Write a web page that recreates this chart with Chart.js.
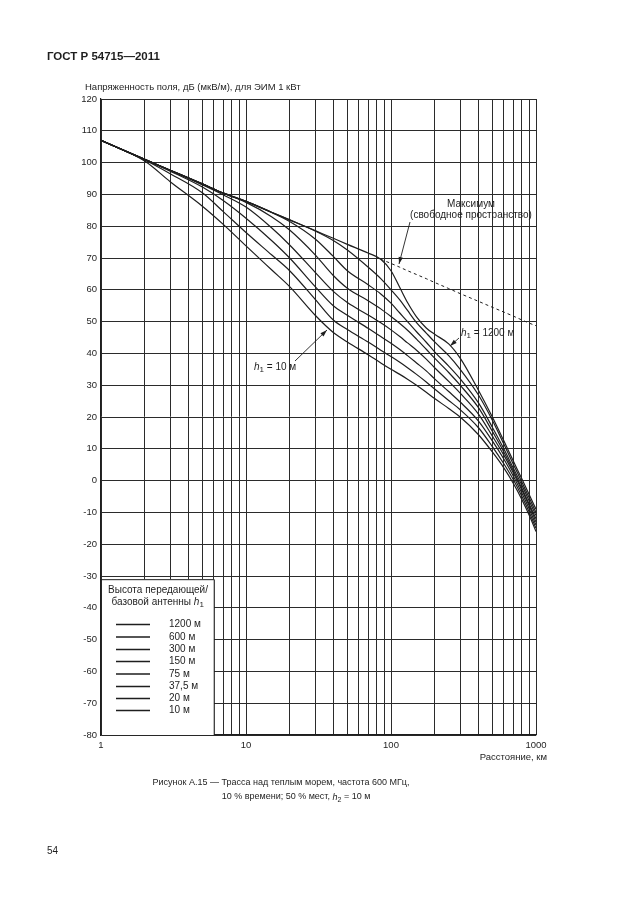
<!DOCTYPE html>
<html>
<head>
<meta charset="utf-8">
<script src="https://cdn.jsdelivr.net/npm/chart.js@4.4.1/dist/chart.umd.min.js"></script>
<style>
  html, body { margin: 0; padding: 0; background: #fff; }
  canvas { display: block; }
</style>
</head>
<body>
<canvas id="chart" width="630" height="913"></canvas>
<script>
// distances, km
const distances = [1, 2, 3, 5, 7, 10, 15, 20, 30, 40, 50, 70, 85, 100, 115, 130, 150, 175, 200, 250, 300, 400, 500, 600, 700, 800, 900, 1000];

// field strength, dB(uV/m), per transmitting antenna height h1
const h1200 = [107, 101, 97.6, 93.3, 90.4, 87.8, 84.4, 82, 78.6, 76.2, 74.3, 71.5, 69.6, 66, 60.7, 56, 51.5, 48, 46, 43, 38.5, 28.5, 20, 12.5, 6, 0.5, -4.5, -9];
const h600 = [107, 101, 97.6, 93.3, 90.4, 87.8, 84.4, 82, 78.5, 75.5, 72.5, 67, 63.5, 60, 56.8, 53.5, 49.7, 46.4, 43.6, 39.3, 35, 27, 19, 11.5, 5, -0.5, -5.5, -10];
const h300 = [107, 101, 97.6, 93.3, 90.4, 87.8, 84.3, 81.5, 76, 70.5, 66, 61.5, 58.7, 55.8, 52.7, 50, 46.8, 43.5, 40.5, 36, 32, 24.5, 16.8, 10, 3.8, -1.5, -6.5, -11];
const h150 = [107, 101, 97.6, 93.3, 90.3, 87.5, 83, 78.8, 71, 64.5, 60.5, 56.5, 54, 51.6, 49.4, 47.3, 44.5, 41.3, 38.5, 34, 30, 23, 15.5, 9, 3, -2.5, -7.5, -12];
const h75 = [107, 101, 97.6, 93, 89.8, 86, 79.5, 74.1, 65.5, 59.5, 56, 52, 49.6, 47.4, 45.3, 43.3, 41, 38.2, 35.5, 31.2, 27.5, 21, 14, 8, 2.3, -3, -8, -13];
const h37_5 = [107, 101, 97.3, 92.3, 88, 82.5, 75.5, 70, 61, 55, 52, 47.8, 45.3, 43.2, 41.2, 39.3, 37, 34.5, 32, 28, 24.7, 18.8, 12.5, 6.8, 1.3, -4, -9, -14];
const h20 = [107, 100.8, 96.5, 90.5, 84.5, 78, 71, 66, 57, 50.5, 47.5, 43.5, 41, 39, 37.2, 35.5, 33.4, 31, 28.8, 25.2, 22.3, 16.7, 10.7, 5.3, 0.2, -5, -10, -15];
const h10 = [107, 100.5, 94, 86.3, 80.5, 73.8, 66.3, 61, 52, 46.6, 43.6, 39.5, 37, 35, 33.4, 31.9, 30, 27.8, 25.8, 22.7, 20, 14.5, 9, 4, -1, -6, -11, -16];

// maximum (free space), dashed part only
const freeSpace = [null, null, null, null, null, null, null, null, null, null, null, null, 69.6, 68.3, 67.1, 66, 64.8, 63.5, 62.3, 60.4, 58.8, 56.4, 54.5, 53, 51.7, 50.5, 49.5, 48.7];

const legendLabels = ['1200 м', '600 м', '300 м', '150 м', '75 м', '37,5 м', '20 м', '10 м'];
const seriesList = [h1200, h600, h300, h150, h75, h37_5, h20, h10];

const xTickValues = [];
[1, 10, 100].forEach(dec => { for (let i = 1; i < 10; i++) xTickValues.push(i * dec); });
xTickValues.push(1000);
const xLabelValues = [1, 10, 100, 1000];

const FONT = '"Liberation Sans", Arial, sans-serif';
const INK = '#1e1e1e';

function toPoints(arr) {
  return distances.map((d, i) => ({ x: d, y: arr[i] }));
}

const datasets = seriesList.map((arr, i) => ({
  label: legendLabels[i],
  data: toPoints(arr),
  borderColor: INK,
  borderWidth: 1.2,
  pointRadius: 0,
  fill: false,
  cubicInterpolationMode: 'monotone'
}));
datasets.push({
  label: 'Максимум',
  data: toPoints(freeSpace),
  borderColor: INK,
  borderWidth: 1,
  borderDash: [3, 3],
  pointRadius: 0,
  fill: false,
  spanGaps: false
});

function arrow(ctx, x1, y1, x2, y2) {
  ctx.beginPath();
  ctx.moveTo(x1, y1);
  ctx.lineTo(x2, y2);
  ctx.stroke();
  const a = Math.atan2(y2 - y1, x2 - x1);
  const len = 7, w = 2.2;
  ctx.beginPath();
  ctx.moveTo(x2, y2);
  ctx.lineTo(x2 - len * Math.cos(a) + w * Math.sin(a), y2 - len * Math.sin(a) - w * Math.cos(a));
  ctx.lineTo(x2 - len * Math.cos(a) - w * Math.sin(a), y2 - len * Math.sin(a) + w * Math.cos(a));
  ctx.closePath();
  ctx.fill();
}

// text like "h1 = 10 м" with italic h and subscript digit
function hLabel(ctx, x, y, sub, rest, size) {
  ctx.textAlign = 'left';
  ctx.textBaseline = 'middle';
  ctx.font = 'italic ' + size + 'px ' + FONT;
  ctx.fillText('h', x, y);
  let cx = x + ctx.measureText('h').width;
  ctx.font = (size - 2) + 'px ' + FONT;
  ctx.fillText(sub, cx, y + 3);
  cx += ctx.measureText(sub).width;
  ctx.font = size + 'px ' + FONT;
  ctx.fillText(rest, cx, y);
  return cx + ctx.measureText(rest).width;
}

const decorations = {
  id: 'decorations',
  afterDraw(chart) {
    const ctx = chart.ctx;
    const xs = chart.scales.x, ys = chart.scales.y;
    const area = chart.chartArea;
    ctx.save();
    ctx.fillStyle = INK;
    ctx.strokeStyle = INK;

    // page header
    ctx.font = 'bold 11.5px ' + FONT;
    ctx.textAlign = 'left';
    ctx.textBaseline = 'middle';
    ctx.fillText('ГОСТ Р 54715—2011', 47, 57);

    // axis titles
    ctx.font = '9.5px ' + FONT;
    ctx.fillText('Напряженность поля, дБ (мкВ/м), для ЭИМ 1 кВт', 85, 87);
    ctx.textAlign = 'right';
    ctx.fillText('Расстояние, км', 547, 757);

    // caption
    ctx.font = '9px ' + FONT;
    ctx.textAlign = 'center';
    ctx.fillText('Рисунок А.15 — Трасса над теплым морем, частота 600 МГц,', 281, 783);
    const cap2a = '10 % времени; 50 % мест, ';
    const cap2b = ' = 10 м';
    const wA = ctx.measureText(cap2a).width, wB = ctx.measureText(cap2b).width;
    ctx.font = 'italic 9px ' + FONT;
    const wH = ctx.measureText('h').width;
    ctx.font = '7px ' + FONT;
    const wS = ctx.measureText('2').width;
    let cx = 296 - (wA + wH + wS + wB) / 2;
    ctx.font = '9px ' + FONT;
    ctx.textAlign = 'left';
    ctx.fillText(cap2a, cx, 797);
    hLabel(ctx, cx + wA, 797, '2', cap2b, 9);

    // page number
    ctx.font = '10px ' + FONT;
    ctx.textAlign = 'left';
    ctx.fillText('54', 47, 851);

    // legend box
    const bx0 = area.left, bx1 = xs.getPixelForValue(6);
    const by0 = ys.getPixelForValue(-31), by1 = area.bottom;
    ctx.fillStyle = '#fff';
    ctx.fillRect(bx0 + 1, by0, bx1 - bx0 - 1, by1 - by0);
    ctx.fillStyle = INK;
    ctx.lineWidth = 1;
    ctx.beginPath();
    ctx.moveTo(bx0, by0 + 0.5);
    ctx.lineTo(bx1 + 0.5, by0 + 0.5);
    ctx.lineTo(bx1 + 0.5, by1);
    ctx.stroke();

    ctx.font = '10px ' + FONT;
    ctx.textAlign = 'center';
    ctx.fillText('Высота передающей/', 158, 590);
    ctx.textAlign = 'left';
    const t2 = 'базовой антенны ';
    const w2 = ctx.measureText(t2).width;
    ctx.font = 'italic 10px ' + FONT;
    const wh = ctx.measureText('h').width;
    let lx = 158 - (w2 + wh + 5) / 2;
    ctx.font = '10px ' + FONT;
    ctx.fillText(t2, lx, 602);
    hLabel(ctx, lx + w2, 602, '1', '', 10);

    const rows = [624.5, 637, 649.5, 661.5, 674, 686.5, 698.5, 710.5];
    ctx.lineWidth = 1.3;
    rows.forEach((ry, i) => {
      ctx.beginPath();
      ctx.moveTo(116, ry);
      ctx.lineTo(150, ry);
      ctx.stroke();
      ctx.font = '10px ' + FONT;
      ctx.textAlign = 'left';
      ctx.textBaseline = 'middle';
      ctx.fillText(legendLabels[i], 169, ry);
    });

    // annotations
    ctx.font = '10px ' + FONT;
    ctx.textAlign = 'center';
    ctx.fillText('Максимум', 471, 204);
    ctx.fillText('(свободное пространство)', 471, 215);
    ctx.lineWidth = 0.9;
    arrow(ctx, 410, 222, 399, 264);

    hLabel(ctx, 461, 333, '1', ' = 1200 м', 10);
    arrow(ctx, 459, 338, 450, 346);

    hLabel(ctx, 254, 367, '1', ' = 10 м', 10);
    arrow(ctx, 295, 361, 327, 330);

    ctx.restore();
  }
};

new Chart(document.getElementById('chart'), {
  type: 'line',
  data: { datasets },
  options: {
    responsive: false,
    animation: false,
    events: [],
    layout: { padding: { left: 71, top: 99, right: 94, bottom: 158 } },
    plugins: { legend: { display: false }, tooltip: { enabled: false }, title: { display: false } },
    scales: {
      x: {
        type: 'logarithmic',
        min: 1,
        max: 1000,
        afterBuildTicks(scale) {
          scale.ticks = xTickValues.map(v => ({ value: v, major: xLabelValues.includes(v) }));
        },
        afterFit(scale) { scale.height = 20; },
        grid: { color: '#2b2b2b', lineWidth: 1, drawTicks: false },
        border: { color: '#1e1e1e', width: 1.2 },
        ticks: {
          autoSkip: false,
          maxRotation: 0,
          padding: 5,
          color: INK,
          font: { family: FONT, size: 9.5 },
          callback: v => (xLabelValues.includes(v) ? String(v) : '')
        }
      },
      y: {
        type: 'linear',
        min: -80,
        max: 120,
        afterFit(scale) { scale.width = 30; },
        grid: { color: '#2b2b2b', lineWidth: 1, drawTicks: false },
        border: { color: '#1e1e1e', width: 1.2 },
        ticks: {
          stepSize: 10,
          padding: 4,
          color: INK,
          font: { family: FONT, size: 9.5 }
        }
      }
    }
  },
  plugins: [decorations]
});
</script>
</body>
</html>
